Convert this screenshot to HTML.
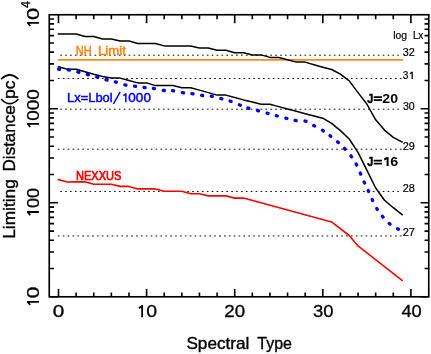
<!DOCTYPE html><html><head><meta charset="utf-8"><title>Limiting Distance</title>
<style>html,body{margin:0;padding:0;background:#fff;}body{width:431px;height:354px;overflow:hidden;}svg{display:block;will-change:transform;}text{font-family:"Liberation Sans",sans-serif;}</style></head><body>
<svg width="431" height="354" viewBox="0 0 431 354">
<rect width="431" height="354" fill="#fff"/>
<line x1="60.25" y1="55.2" x2="402.1" y2="55.2" stroke="#111" stroke-width="1" stroke-dasharray="1.7 3.185"/>
<line x1="57.85" y1="78.5" x2="402.1" y2="78.5" stroke="#111" stroke-width="1" stroke-dasharray="1.7 3.185"/>
<line x1="60.25" y1="109.2" x2="402.1" y2="109.2" stroke="#111" stroke-width="1" stroke-dasharray="1.7 3.185"/>
<line x1="57.85" y1="149.2" x2="402.1" y2="149.2" stroke="#111" stroke-width="1" stroke-dasharray="1.7 3.185"/>
<line x1="60.25" y1="191.45" x2="402.1" y2="191.45" stroke="#111" stroke-width="1" stroke-dasharray="1.7 3.185"/>
<line x1="57.85" y1="235.95" x2="402.1" y2="235.95" stroke="#111" stroke-width="1" stroke-dasharray="1.7 3.185"/>
<line x1="57.8" y1="59.95" x2="403" y2="59.95" stroke="#ff8a1a" stroke-width="1.7"/>
<polyline points="58.50,34.0 67.31,34.0 76.12,34.0 84.93,36.5 93.74,36.5 102.55,39.0 111.36,39.0 120.17,41.0 128.98,41.0 137.79,43.5 146.60,43.5 155.41,43.5 164.22,45.9 173.03,45.9 181.84,45.9 190.65,45.9 199.46,48.05 208.27,48.05 217.08,50.2 225.89,50.2 234.70,52.7 243.51,52.7 252.32,54.9 261.13,54.9 269.94,57.4 278.75,57.4 287.56,59.7 296.37,62.1 305.18,62.1 313.99,64.7 322.80,67.2 331.61,69.5 340.42,74.2 349.23,80.9 358.04,92.6 366.85,104.0 375.66,119.8 384.47,130.1 393.28,137.3 402.09,142.0" fill="none" stroke="#000" stroke-width="1.5" stroke-linejoin="round" stroke-linecap="square"/>
<polyline points="58.50,66.7 67.31,69.2 76.12,69.2 84.93,71.7 93.74,74.2 102.55,76.4 111.36,78.1 120.17,78.1 128.98,80.5 137.79,82.9 146.60,82.9 155.41,85.6 164.22,85.6 173.03,85.6 181.84,87.7 190.65,87.7 199.46,90.1 208.27,92.6 217.08,95.1 225.89,95.1 234.70,97.5 243.51,99.9 252.32,101.9 261.13,104.2 269.94,104.2 278.75,106.6 287.56,109.0 296.37,111.3 305.18,113.8 313.99,116.0 322.80,118.2 331.61,123.4 340.42,130.6 349.23,139.0 358.04,152.4 366.85,170.2 375.66,188.0 384.47,200.2 393.28,207.7 402.09,214.7" fill="none" stroke="#000" stroke-width="1.5" stroke-linejoin="round" stroke-linecap="square"/>
<polyline points="58.50,179.6 67.31,182.0 76.12,181.9 84.93,181.8 93.74,184.2 102.55,184.2 111.36,184.2 120.17,186.4 128.98,186.4 137.79,188.9 146.60,188.9 155.41,188.9 164.22,191.2 173.03,191.2 181.84,191.2 190.65,193.7 199.46,193.7 208.27,195.9 217.08,195.9 225.89,195.9 234.70,198.1 243.51,198.1 331.61,221.9 349.23,235.5 358.04,245.9 402.09,280.4" fill="none" stroke="#ff0000" stroke-width="1.6" stroke-linejoin="round" stroke-linecap="square"/>
<rect x="-2.15" y="-1.65" width="4.3" height="3.3" rx="1.4" ry="1.4" fill="#0000ff" transform="translate(59.10 69.20) rotate(4.1)"/>
<rect x="-2.15" y="-1.65" width="4.3" height="3.3" rx="1.4" ry="1.4" fill="#0000ff" transform="translate(68.85 69.90) rotate(8.7)"/>
<rect x="-2.15" y="-1.65" width="4.3" height="3.3" rx="1.4" ry="1.4" fill="#0000ff" transform="translate(78.35 72.15) rotate(14.1)"/>
<rect x="-2.15" y="-1.65" width="4.3" height="3.3" rx="1.4" ry="1.4" fill="#0000ff" transform="translate(87.80 74.65) rotate(14.7)"/>
<rect x="-2.15" y="-1.65" width="4.3" height="3.3" rx="1.4" ry="1.4" fill="#0000ff" transform="translate(97.20 77.10) rotate(15.7)"/>
<rect x="-2.15" y="-1.65" width="4.3" height="3.3" rx="1.4" ry="1.4" fill="#0000ff" transform="translate(106.50 79.90) rotate(14.8)"/>
<rect x="-2.15" y="-1.65" width="4.3" height="3.3" rx="1.4" ry="1.4" fill="#0000ff" transform="translate(115.80 82.00) rotate(15.1)"/>
<rect x="-2.15" y="-1.65" width="4.3" height="3.3" rx="1.4" ry="1.4" fill="#0000ff" transform="translate(125.40 85.00) rotate(12.3)"/>
<rect x="-2.15" y="-1.65" width="4.3" height="3.3" rx="1.4" ry="1.4" fill="#0000ff" transform="translate(135.10 86.20) rotate(7.4)"/>
<rect x="-2.15" y="-1.65" width="4.3" height="3.3" rx="1.4" ry="1.4" fill="#0000ff" transform="translate(144.60 87.50) rotate(6.7)"/>
<rect x="-2.15" y="-1.65" width="4.3" height="3.3" rx="1.4" ry="1.4" fill="#0000ff" transform="translate(153.90 88.40) rotate(8.6)"/>
<rect x="-2.15" y="-1.65" width="4.3" height="3.3" rx="1.4" ry="1.4" fill="#0000ff" transform="translate(163.80 90.40) rotate(6.8)"/>
<rect x="-2.15" y="-1.65" width="4.3" height="3.3" rx="1.4" ry="1.4" fill="#0000ff" transform="translate(173.10 90.70) rotate(6.8)"/>
<rect x="-2.15" y="-1.65" width="4.3" height="3.3" rx="1.4" ry="1.4" fill="#0000ff" transform="translate(183.00 92.70) rotate(8.8)"/>
<rect x="-2.15" y="-1.65" width="4.3" height="3.3" rx="1.4" ry="1.4" fill="#0000ff" transform="translate(192.50 93.70) rotate(8.0)"/>
<rect x="-2.15" y="-1.65" width="4.3" height="3.3" rx="1.4" ry="1.4" fill="#0000ff" transform="translate(202.10 95.40) rotate(7.4)"/>
<rect x="-2.15" y="-1.65" width="4.3" height="3.3" rx="1.4" ry="1.4" fill="#0000ff" transform="translate(211.80 96.20) rotate(9.8)"/>
<rect x="-2.15" y="-1.65" width="4.3" height="3.3" rx="1.4" ry="1.4" fill="#0000ff" transform="translate(221.30 98.70) rotate(14.9)"/>
<rect x="-2.15" y="-1.65" width="4.3" height="3.3" rx="1.4" ry="1.4" fill="#0000ff" transform="translate(230.60 101.20) rotate(18.8)"/>
<rect x="-2.15" y="-1.65" width="4.3" height="3.3" rx="1.4" ry="1.4" fill="#0000ff" transform="translate(239.80 105.00) rotate(21.2)"/>
<rect x="-2.15" y="-1.65" width="4.3" height="3.3" rx="1.4" ry="1.4" fill="#0000ff" transform="translate(248.40 108.10) rotate(17.1)"/>
<rect x="-2.15" y="-1.65" width="4.3" height="3.3" rx="1.4" ry="1.4" fill="#0000ff" transform="translate(258.00 110.60) rotate(15.2)"/>
<rect x="-2.15" y="-1.65" width="4.3" height="3.3" rx="1.4" ry="1.4" fill="#0000ff" transform="translate(267.60 113.30) rotate(15.5)"/>
<rect x="-2.15" y="-1.65" width="4.3" height="3.3" rx="1.4" ry="1.4" fill="#0000ff" transform="translate(276.80 115.80) rotate(14.9)"/>
<rect x="-2.15" y="-1.65" width="4.3" height="3.3" rx="1.4" ry="1.4" fill="#0000ff" transform="translate(286.40 118.30) rotate(14.3)"/>
<rect x="-2.15" y="-1.65" width="4.3" height="3.3" rx="1.4" ry="1.4" fill="#0000ff" transform="translate(295.60 120.60) rotate(8.6)"/>
<rect x="-2.15" y="-1.65" width="4.3" height="3.3" rx="1.4" ry="1.4" fill="#0000ff" transform="translate(305.50 121.20) rotate(15.6)"/>
<rect x="-2.15" y="-1.65" width="4.3" height="3.3" rx="1.4" ry="1.4" fill="#0000ff" transform="translate(314.20 125.80) rotate(28.4)"/>
<rect x="-2.15" y="-1.65" width="4.3" height="3.3" rx="1.4" ry="1.4" fill="#0000ff" transform="translate(322.90 130.60) rotate(32.2)"/>
<rect x="-2.15" y="-1.65" width="4.3" height="3.3" rx="1.4" ry="1.4" fill="#0000ff" transform="translate(330.40 136.00) rotate(37.5)"/>
<rect x="-2.15" y="-1.65" width="4.3" height="3.3" rx="1.4" ry="1.4" fill="#0000ff" transform="translate(338.00 142.20) rotate(41.6)"/>
<rect x="-2.15" y="-1.65" width="4.3" height="3.3" rx="1.4" ry="1.4" fill="#0000ff" transform="translate(344.80 148.80) rotate(46.7)"/>
<rect x="-2.15" y="-1.65" width="4.3" height="3.3" rx="1.4" ry="1.4" fill="#0000ff" transform="translate(351.30 156.30) rotate(53.5)"/>
<rect x="-2.15" y="-1.65" width="4.3" height="3.3" rx="1.4" ry="1.4" fill="#0000ff" transform="translate(356.40 164.50) rotate(62.0)"/>
<rect x="-2.15" y="-1.65" width="4.3" height="3.3" rx="1.4" ry="1.4" fill="#0000ff" transform="translate(360.50 173.60) rotate(66.0)"/>
<rect x="-2.15" y="-1.65" width="4.3" height="3.3" rx="1.4" ry="1.4" fill="#0000ff" transform="translate(364.40 182.50) rotate(65.6)"/>
<rect x="-2.15" y="-1.65" width="4.3" height="3.3" rx="1.4" ry="1.4" fill="#0000ff" transform="translate(368.40 191.00) rotate(65.4)"/>
<rect x="-2.15" y="-1.65" width="4.3" height="3.3" rx="1.4" ry="1.4" fill="#0000ff" transform="translate(372.40 200.00) rotate(64.1)"/>
<rect x="-2.15" y="-1.65" width="4.3" height="3.3" rx="1.4" ry="1.4" fill="#0000ff" transform="translate(377.10 208.90) rotate(58.3)"/>
<rect x="-2.15" y="-1.65" width="4.3" height="3.3" rx="1.4" ry="1.4" fill="#0000ff" transform="translate(382.70 216.70) rotate(50.0)"/>
<rect x="-2.15" y="-1.65" width="4.3" height="3.3" rx="1.4" ry="1.4" fill="#0000ff" transform="translate(389.60 223.80) rotate(38.8)"/>
<rect x="-2.15" y="-1.65" width="4.3" height="3.3" rx="1.4" ry="1.4" fill="#0000ff" transform="translate(398.00 229.00) rotate(31.8)"/>
<rect x="49.25" y="14.75" width="379.5" height="282.05" fill="none" stroke="#000" stroke-width="1.65"/>
<path d="M58.50 14.75v8.6M58.50 296.8v-7.9M76.12 14.75v4.6M76.12 296.8v-4.2M93.74 14.75v4.6M93.74 296.8v-4.2M111.36 14.75v4.6M111.36 296.8v-4.2M128.98 14.75v4.6M128.98 296.8v-4.2M146.60 14.75v8.6M146.60 296.8v-7.9M164.22 14.75v4.6M164.22 296.8v-4.2M181.84 14.75v4.6M181.84 296.8v-4.2M199.46 14.75v4.6M199.46 296.8v-4.2M217.08 14.75v4.6M217.08 296.8v-4.2M234.70 14.75v8.6M234.70 296.8v-7.9M252.32 14.75v4.6M252.32 296.8v-4.2M269.94 14.75v4.6M269.94 296.8v-4.2M287.56 14.75v4.6M287.56 296.8v-4.2M305.18 14.75v4.6M305.18 296.8v-4.2M322.80 14.75v8.6M322.80 296.8v-7.9M340.42 14.75v4.6M340.42 296.8v-4.2M358.04 14.75v4.6M358.04 296.8v-4.2M375.66 14.75v4.6M375.66 296.8v-4.2M393.28 14.75v4.6M393.28 296.8v-4.2M410.90 14.75v8.6M410.90 296.8v-7.9M49.25 296.81h8.75M428.75 296.81h-8.2M49.25 268.51h4.75M428.75 268.51h-4.2M49.25 251.95h4.75M428.75 251.95h-4.2M49.25 240.20h4.75M428.75 240.20h-4.2M49.25 231.09h4.75M428.75 231.09h-4.2M49.25 223.65h4.75M428.75 223.65h-4.2M49.25 217.35h4.75M428.75 217.35h-4.2M49.25 211.90h4.75M428.75 211.90h-4.2M49.25 207.09h4.75M428.75 207.09h-4.2M49.25 202.79h8.75M428.75 202.79h-8.2M49.25 174.49h4.75M428.75 174.49h-4.2M49.25 157.93h4.75M428.75 157.93h-4.2M49.25 146.18h4.75M428.75 146.18h-4.2M49.25 137.07h4.75M428.75 137.07h-4.2M49.25 129.63h4.75M428.75 129.63h-4.2M49.25 123.33h4.75M428.75 123.33h-4.2M49.25 117.88h4.75M428.75 117.88h-4.2M49.25 113.07h4.75M428.75 113.07h-4.2M49.25 108.77h8.75M428.75 108.77h-8.2M49.25 80.47h4.75M428.75 80.47h-4.2M49.25 63.91h4.75M428.75 63.91h-4.2M49.25 52.16h4.75M428.75 52.16h-4.2M49.25 43.05h4.75M428.75 43.05h-4.2M49.25 35.61h4.75M428.75 35.61h-4.2M49.25 29.31h4.75M428.75 29.31h-4.2M49.25 23.86h4.75M428.75 23.86h-4.2M49.25 19.05h4.75M428.75 19.05h-4.2" stroke="#000" stroke-width="1.6" fill="none"/>
<path d="M139.05 308.22L142.15 305.64M142.15 304.90V317.20" fill="none" stroke="#000" stroke-width="1.8"/>
<text transform="translate(52.67 317.4) scale(1.2196 1)" font-size="17" fill="#000" stroke="#000" stroke-width="0.3">0</text>
<text transform="translate(146.22 317.4) scale(1.1457 1)" font-size="17" fill="#000" stroke="#000" stroke-width="0.3">0</text>
<text transform="translate(224.37 317.4) scale(1.0988 1)" font-size="17" fill="#000" stroke="#000" stroke-width="0.3">20</text>
<text transform="translate(313.01 317.4) scale(1.0855 1)" font-size="17" fill="#000" stroke="#000" stroke-width="0.3">30</text>
<text transform="translate(401.39 317.4) scale(1.0756 1)" font-size="17" fill="#000" stroke="#000" stroke-width="0.3">40</text>
<text transform="translate(186.43 349.0) scale(1.0223 1)" font-size="16.8" fill="#000" stroke="#000" stroke-width="0.38">Spectral</text>
<text transform="translate(257.34 349.0) scale(0.9512 1)" font-size="16.8" fill="#000" stroke="#000" stroke-width="0.38">Type</text>
<path transform="translate(38.9 127.4) rotate(-90)" d="M0.35 -8.69L3.60 -11.19M3.60 -11.90V0.00" fill="none" stroke="#000" stroke-width="1.8"/>
<text transform="translate(38.9 120.65) rotate(-90) scale(1.1099 1)" font-size="17" fill="#000" stroke="#000" stroke-width="0.3">000</text>
<path transform="translate(38.9 215.6) rotate(-90)" d="M0.35 -8.69L3.60 -11.19M3.60 -11.90V0.00" fill="none" stroke="#000" stroke-width="1.8"/>
<text transform="translate(38.9 208.02) rotate(-90) scale(1.0654 1)" font-size="17" fill="#000" stroke="#000" stroke-width="0.3">00</text>
<path transform="translate(38.9 305.4) rotate(-90)" d="M0.35 -8.69L3.50 -11.19M3.50 -11.90V0.00" fill="none" stroke="#000" stroke-width="1.8"/>
<text transform="translate(38.9 298.33) rotate(-90) scale(1.2196 1)" font-size="17" fill="#000" stroke="#000" stroke-width="0.3">0</text>
<path transform="translate(38.9 26.4) rotate(-90)" d="M0.35 -8.69L3.60 -11.19M3.60 -11.90V0.00" fill="none" stroke="#000" stroke-width="1.8"/>
<text transform="translate(38.9 19.97) rotate(-90) scale(1.2750 1)" font-size="17" fill="#000" stroke="#000" stroke-width="0.3">0</text>
<text transform="translate(30.4 8.09) rotate(-90) scale(1.0388 1)" font-size="12.2" fill="#000" stroke="#000" stroke-width="0.3">4</text>
<text transform="translate(15.15 238.73) rotate(-90) scale(1.0160 1)" font-size="17" fill="#000" stroke="#000" stroke-width="0.38">Limiting</text>
<text transform="translate(15.15 171.40) rotate(-90) scale(0.9999 1)" font-size="17" fill="#000" stroke="#000" stroke-width="0.38">Distance</text>
<path d="M1.6 99.5Q9.75 107.9 17.9 99.5M1.6 78.7Q9.75 71.1 17.9 78.7" fill="none" stroke="#000" stroke-width="1.7" stroke-linecap="round"/>
<text transform="translate(15.15 98.93) rotate(-90) scale(1.0267 1)" font-size="17" fill="#000" stroke="#000" stroke-width="0.38">pc</text>
<path d="M409.95 73.67L412.18 72.14M412.18 71.70V79.00" fill="none" stroke="#000" stroke-width="1.25"/>
<text transform="translate(393.20 39.2) scale(1.0110 1)" font-size="10.2" fill="#000" stroke="#000" stroke-width="0.2">log</text>
<text transform="translate(412.88 39.2) scale(0.9702 1)" font-size="10.2" fill="#000" stroke="#000" stroke-width="0.2">Lx</text>
<text transform="translate(402.80 55.6) scale(1.0547 1)" font-size="10.2" fill="#000" stroke="#000" stroke-width="0.2">32</text>
<text transform="translate(402.82 78.9) scale(0.9907 1)" font-size="10.2" fill="#000" stroke="#000" stroke-width="0.2">3</text>
<text transform="translate(402.90 109.6) scale(1.0420 1)" font-size="10.2" fill="#000" stroke="#000" stroke-width="0.2">30</text>
<text transform="translate(402.65 149.5) scale(1.0722 1)" font-size="10.2" fill="#000" stroke="#000" stroke-width="0.2">29</text>
<text transform="translate(402.65 191.7) scale(1.0695 1)" font-size="10.2" fill="#000" stroke="#000" stroke-width="0.2">28</text>
<text transform="translate(402.65 236.2) scale(1.0775 1)" font-size="10.2" fill="#000" stroke="#000" stroke-width="0.2">27</text>
<text transform="translate(75.79 54.9) scale(0.8674 1)" font-size="12.7" fill="#ff8410" stroke="#ff8410" stroke-width="0.5">NH</text>
<text transform="translate(97.91 54.9) scale(1.0447 1)" font-size="12.7" fill="#ff8410" stroke="#ff8410" stroke-width="0.5">Limit</text>
<text transform="translate(67.03 102.2) scale(1.0022 1)" font-size="12.9" fill="#0000ff" stroke="#0000ff" stroke-width="0.45">Lx=Lbol</text>
<line x1="113.4" y1="104.0" x2="120.2" y2="91.9" stroke="#0000ff" stroke-width="1.5"/>
<path d="M123.45 95.63L125.85 93.74M125.85 93.20V102.20" fill="none" stroke="#0000ff" stroke-width="1.5"/>
<text transform="translate(128.36 102.2) scale(1.0482 1)" font-size="12.9" fill="#0000ff" stroke="#0000ff" stroke-width="0.45">000</text>
<text transform="translate(75.89 179.7) scale(0.8719 1)" font-size="12.7" fill="#ff0000" stroke="#ff0000" stroke-width="0.7">NEXXUS</text>
<text transform="translate(367.14 102.5) scale(0.8303 1)" font-size="13" font-weight="bold" fill="#000" stroke="#000" stroke-width="0.5">J</text>
<path d="M373.7 97.1H382M373.7 100.05H382" stroke="#000" stroke-width="1.7" fill="none"/>
<text transform="translate(382.31 102.5) scale(1.0851 1)" font-size="13" font-weight="bold" fill="#000">20</text>
<text transform="translate(367.14 166.1) scale(0.8303 1)" font-size="13" font-weight="bold" fill="#000" stroke="#000" stroke-width="0.5">J</text>
<path d="M373.7 160.7H382M373.7 163.65H382" stroke="#000" stroke-width="1.7" fill="none"/>
<path d="M384.25 159.60L387.60 157.73M387.60 157.20V166.10" fill="none" stroke="#000" stroke-width="2.0"/>
<text transform="translate(390.36 166.1) scale(1.1000 1)" font-size="13" font-weight="bold" fill="#000">6</text>
</svg></body></html>
